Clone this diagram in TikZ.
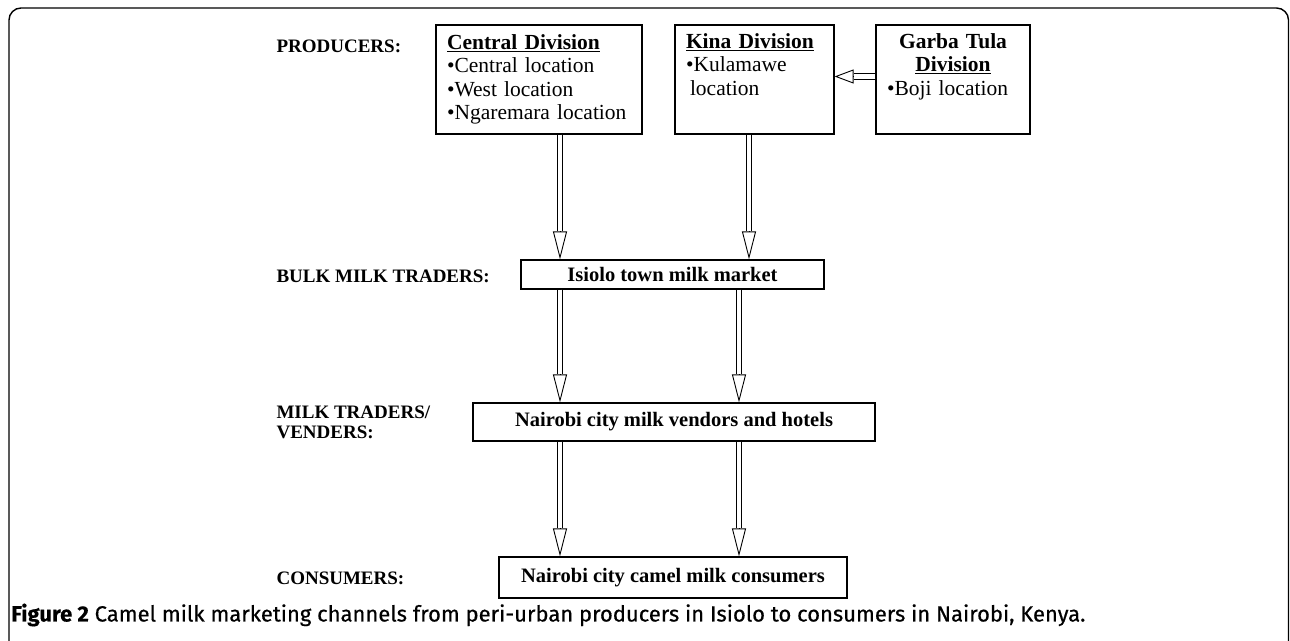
\documentclass[tikz,border=0pt]{standalone}
\usepackage{fontspec}
\setmainfont{Liberation Serif}
\newfontfamily\capfont{Fira Sans}[FakeBold=0.5]
\usetikzlibrary{arrows.meta}
\usetikzlibrary{calc}

\tikzset{
  divbox/.style={draw, line width=1.2pt, align=left, inner xsep=11pt, inner ysep=0pt, minimum height=109pt, font=\fontsize{21.5}{23.5}\selectfont},
  stagebox/.style={draw, line width=1.2pt, inner sep=0pt, font=\bfseries\fontsize{20.5}{23}\selectfont},
  level/.style={anchor=west, align=left, font=\bfseries\fontsize{19}{20}\selectfont},
  flowshaft/.style={draw=black, line width=0.9pt, double=white, double distance=4.5pt},
  flowhead/.style={line width=0.9pt, -{Triangle[open, length=#1, width=14pt]}}
}

\newcommand\flowarrow[3]{%
  \path (#1) coordinate (fa-start);
  \path (#2) coordinate (fa-end);
  \draw[flowshaft, shorten >=#3] (fa-start) -- (fa-end);
  \draw[flowhead=#3] ($(fa-end)!#3!(fa-start)$) -- (fa-end);
}

\begin{document}
\begin{tikzpicture}[x=1pt, y=-1pt]
      \useasboundingbox (0,0) rectangle (1290,640);
      \draw[line width=1.4pt, rounded corners=12pt] (9,8) rectangle (1288.5,680);

      \node[level] (prod) at (273,46) {PRODUCERS:};
      \node[level] (bulk) at (273,276) {BULK MILK TRADERS:};
      \node[level] (vend) at (273,422) {MILK TRADERS/\\VENDERS:};
      \node[level] (cons) at (273,578) {CONSUMERS:};

      \node[divbox, text width=184pt] (central) at (539,79.5) {\textbf{\underline{Central Division}}\\\textbullet Central location\\\textbullet West location\\\textbullet Ngaremara location};
      \node[divbox, text width=137pt] (kina) at (754.5,79.5) {\textbf{\underline{Kina Division}}\\\textbullet Kulamawe\\\hspace*{4pt}location\\\strut};
      \node[divbox, text width=132pt] (garba) at (953,79.5) {\hfill\textbf{Garba Tula}\hfill\null\\\hfill\textbf{\underline{Division}}\hfill\null\\\textbullet Boji location\\\strut};

      \node[stagebox, minimum width=303pt, minimum height=29pt] (isiolo) at (672.5,274.5) {Isiolo town milk market};
      \node[stagebox, minimum width=402pt, minimum height=38pt] (vendors) at (674,422) {Nairobi city milk vendors and hotels};
      \node[stagebox, minimum width=348pt, minimum height=41pt] (consumers) at (673,577.5) {Nairobi city camel milk consumers};

      \flowarrow{[yshift=3pt]garba.west}{fa-start -| kina.east}{19pt}
      \flowarrow{[xshift=21pt]central.south}{fa-start |- isiolo.north}{28pt}
      \flowarrow{[xshift=-5.5pt]kina.south}{fa-start |- isiolo.north}{28pt}
      \flowarrow{[xshift=-112.5pt]isiolo.south}{fa-start |- vendors.north}{28pt}
      \flowarrow{[xshift=66.5pt]isiolo.south}{fa-start |- vendors.north}{28pt}
      \flowarrow{[xshift=-114pt]vendors.south}{fa-start |- consumers.north}{28pt}
      \flowarrow{[xshift=65pt]vendors.south}{fa-start |- consumers.north}{28pt}

      \node[anchor=west, inner sep=0pt, font=\capfont\fontsize{22}{24}\selectfont] (caption) at (11,615) {\textbf{Figure 2} Camel milk marketing channels from peri-urban producers in Isiolo to consumers in Nairobi, Kenya.};
\end{tikzpicture}
\end{document}
